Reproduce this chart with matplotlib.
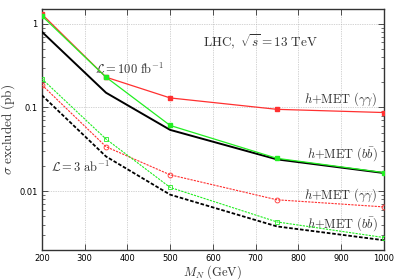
import numpy as np
import matplotlib
matplotlib.use("Agg")
import matplotlib.pyplot as plt
from matplotlib.ticker import FixedLocator, LogLocator, NullFormatter

plt.rcParams['mathtext.fontset'] = 'cm'
plt.rcParams['font.family'] = 'DejaVu Sans'

mass = [200, 350, 500, 750, 1000]

# L = 100 fb^-1
gg_100 = [1.30, 0.23, 0.13, 0.095, 0.087]
bb_100 = [1.24, 0.23, 0.061, 0.0247, 0.0167]
comb_100 = [0.80, 0.15, 0.054, 0.024, 0.0165]

# L = 3 ab^-1
gg_3000 = [0.186, 0.034, 0.0157, 0.0079, 0.0065]
bb_3000 = [0.22, 0.042, 0.0111, 0.0043, 0.0028]
comb_3000 = [0.14, 0.026, 0.0091, 0.0038, 0.0026]

xticks = [200, 300, 400, 500, 600, 700, 800, 900, 1000]
yticks = [0.01, 0.1, 1]
ytick_labels = ["0.01", "0.1", "1"]

RED = "#ff3030"
GREEN = "#22ee22"
TC = '#333333'

fig = plt.figure(figsize=(3.99, 2.80), dpi=100)
ax = fig.add_axes([0.105, 0.106, 0.857, 0.862])

ax.plot(mass, gg_100, '-', color=RED, lw=0.9, marker='s', ms=2.5, zorder=4)
ax.plot(mass, bb_100, '-', color=GREEN, lw=0.9, marker='s', ms=2.5, zorder=4)
ax.plot(mass, comb_100, '-', color='black', lw=1.4, zorder=3)

ax.plot(mass, gg_3000, '--', color=RED, lw=0.8, dashes=(2, 1), marker='o', ms=3.5,
        mfc='none', mew=0.6, zorder=4)
ax.plot(mass, bb_3000, '--', color=GREEN, lw=0.8, dashes=(2, 1), marker='s', ms=3,
        mfc='none', mew=0.6, zorder=4)
ax.plot(mass, comb_3000, '--', color='black', lw=1.3, dashes=(2, 1), zorder=3)

ax.set_yscale('log')
ax.set_xlim(200, 1000)
ax.set_ylim(0.00197, 1.5)
ax.xaxis.set_major_locator(FixedLocator(xticks))
ax.set_xticklabels([str(t) for t in xticks], fontsize=6)
ax.yaxis.set_major_locator(FixedLocator(yticks))
ax.set_yticklabels(ytick_labels, fontsize=6)
ax.yaxis.set_minor_locator(LogLocator(base=10, subs=np.arange(2, 10)))
ax.yaxis.set_minor_formatter(NullFormatter())
ax.tick_params(which='both', direction='in', top=True, right=True, color=TC)
ax.tick_params(which='major', length=4, width=0.6, pad=3)
ax.tick_params(axis='x', which='major', pad=2.5)
ax.tick_params(which='minor', length=2, width=0.5)
for s in ax.spines.values():
    s.set_linewidth(1.0)
    s.set_color(TC)

ax.grid(True, which='major', color='#aaaaaa', ls=(0, (1, 1.5)), lw=0.5)

ax.set_xlabel(r'$M_N\ (\mathrm{GeV})$', fontsize=9, labelpad=0, color=TC)
ax.set_ylabel(r'$\sigma\ \mathrm{excluded\ (pb)}$', fontsize=9.5, labelpad=2, color=TC)

ax.text(577, 0.52, r'$\mathrm{LHC},\ \sqrt{s} = 13\ \mathrm{TeV}$', fontsize=9.5, color=TC)
ax.text(325, 0.25, r'$\mathcal{L} = 100\ \mathrm{fb}^{-1}$', fontsize=9, color=TC)
ax.text(222, 0.0168, r'$\mathcal{L} = 3\ \mathrm{ab}^{-1}$', fontsize=9, color=TC)

labels = [(0.115, r'$h{+}\mathrm{MET}\ (\gamma\gamma)$'),
          (0.0254, r'$h{+}\mathrm{MET}\ (b\bar{b})$'),
          (0.0081, r'$h{+}\mathrm{MET}\ (\gamma\gamma)$'),
          (0.0037, r'$h{+}\mathrm{MET}\ (b\bar{b})$')]
for yv, txt in labels:
    ax.text(985, yv, txt, fontsize=9, color=TC, ha='right')

fig.savefig('out.png', dpi=100)
